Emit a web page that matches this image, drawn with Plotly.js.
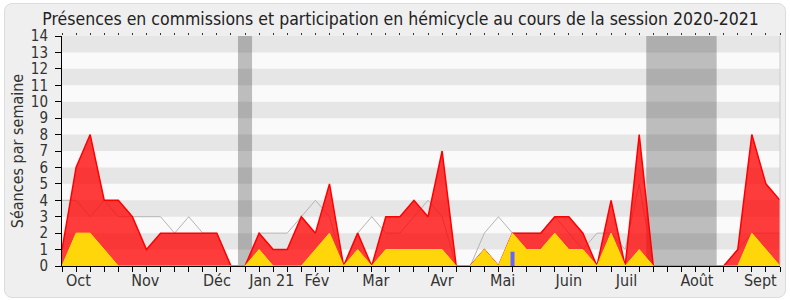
<!DOCTYPE html>
<html>
<head>
<meta charset="utf-8">
<script src="https://cdn.plot.ly/plotly-3.0.1.min.js"></script>
<style>
  html, body { margin: 0; padding: 0; background: #ffffff; }
  #frame { position: absolute; left: 4px; top: 3px; width: 780px; height: 293px;
           background: #efefef; border: 1px solid #dcdcdc; border-radius: 8px; }
  #chart { position: absolute; left: 0; top: 0; width: 790px; height: 300px; }
</style>
</head>
<body>
<div id="frame"></div>
<div id="chart"></div>
<script>
// Weekly values, session 2020-2021 (52 weeks)
const weeks = Array.from({length: 52}, (_, i) => i);
const presenceCommission = [1,6,8,4,4,3,1,2,2,2,2,2,0,0,2,1,1,3,2,5,0,2,0,3,3,4,3,7,0,0,1,0,2,2,2,3,3,2,0,4,0,8,0,0,0,0,0,0,1,8,5,4];
const participationHemicycle = [0,2,2,1,0,0,0,0,0,0,0,0,0,0,1,0,0,0,1,2,0,1,0,1,1,1,1,1,0,0,1,0,2,1,1,2,1,1,0,2,0,1,0,0,0,0,0,0,0,2,1,0];
const medianeDeputes = [4,4,3,4,3,3,3,3,2,3,2,2,0,0,2,2,2,3,4,3,0,2,3,2,2,3,4,3,0,0,2,3,2,2,2,3,2,1,2,2,1,5,0,0,0,0,0,0,1,2,2,2];
const questionWeek = [32];
const questionValue = [0.87];
const vacances = [[12.5, 13.5], [41.5, 46.5]];
const monthLabels = ['Oct','Nov','Déc','Jan 21','Fév','Mar','Avr','Mai','Juin','Juil','Août','Sept'];
const monthPos = [1.16, 5.92, 11.0, 14.9, 18.1, 22.3, 27.0, 31.3, 36.0, 40.1, 45.1, 49.6];

const FONT = '"DejaVu Sans Condensed", "DejaVu Sans", sans-serif';

const shapes = [];
for (let k = 1; k < 14; k += 2) {
  shapes.push({type: 'rect', xref: 'paper', yref: 'y', x0: 0, x1: 1, y0: k, y1: k + 1,
               fillcolor: '#e6e6e6', line: {width: 0}, layer: 'below'});
}
vacances.forEach(v => shapes.push({type: 'rect', xref: 'x', yref: 'paper', x0: v[0], x1: v[1], y0: 0, y1: 1,
               fillcolor: 'rgba(0,0,0,0.245)', line: {width: 0}, layer: 'below'}));
shapes.push({type: 'line', xref: 'paper', yref: 'paper', x0: 1, x1: 1, y0: 0, y1: 1,
             line: {color: '#cccccc', width: 1}});

const data = [
  {x: weeks, y: medianeDeputes, type: 'scatter', mode: 'lines',
   line: {color: '#b4b4b4', width: 1}, hoverinfo: 'skip', showlegend: false},
  {x: weeks, y: presenceCommission, type: 'scatter', mode: 'lines', fill: 'tozeroy',
   fillcolor: 'rgba(255,0,0,0.76)', line: {color: '#ff0000', width: 1.5}, showlegend: false},
  {x: weeks, y: participationHemicycle, type: 'scatter', mode: 'lines', fill: 'tozeroy',
   fillcolor: 'rgb(255,214,10)', line: {color: '#ffe600', width: 1}, showlegend: false},
  {x: [questionWeek[0], questionWeek[0]], y: [0, questionValue[0]], type: 'scatter', mode: 'lines',
   line: {color: '#6464ff', width: 4}, showlegend: false},
  {x: [0, 51], y: [0, 0], xaxis: 'x2', type: 'scatter', mode: 'lines', line: {width: 0},
   hoverinfo: 'skip', showlegend: false}
];

const layout = {
  width: 790, height: 300,
  margin: {l: 62, r: 10, t: 36, b: 34},
  paper_bgcolor: 'rgba(0,0,0,0)',
  plot_bgcolor: '#fafafa',
  font: {family: FONT, color: '#333333', size: 15},
  title: {text: 'Présences en commissions et participation en hémicycle au cours de la session 2020-2021',
          x: 0.507, xanchor: 'center', xref: 'container', y: 0.937, yanchor: 'middle', yref: 'container',
          font: {family: FONT, size: 17.5, color: '#222222'}},
  xaxis: {range: [0, 51], showgrid: false, zeroline: false, showline: true, linecolor: '#000', linewidth: 1,
          tickvals: monthPos, ticktext: monthLabels, ticks: '', ticklen: 0,
          tickfont: {family: FONT, size: 16, color: '#333'},
          minor: {dtick: 1, tick0: 0, ticks: 'outside', ticklen: 5, tickcolor: '#000', tickwidth: 1, showgrid: false},
          fixedrange: true},
  xaxis2: {range: [0, 51], overlaying: 'x', side: 'top', showgrid: false, zeroline: false, showline: false,
           showticklabels: false, ticks: 'outside', ticklen: 2, dtick: 1, tick0: 0, tickcolor: '#333', tickwidth: 1},
  yaxis: {range: [0, 14], dtick: 1, tick0: 0, showgrid: false, zeroline: false, showline: true,
          linecolor: '#000', linewidth: 1, ticks: 'outside', ticklen: 6, tickcolor: '#000',
          ticklabelstandoff: 4,
          tickfont: {family: FONT, size: 15, color: '#333'},
          title: {text: 'Séances par semaine', font: {family: FONT, size: 16, color: '#333'}, standoff: 3}},
  shapes: shapes,
  showlegend: false
};

Plotly.newPlot('chart', data, layout, {staticPlot: true, displayModeBar: false});
</script>
</body>
</html>
